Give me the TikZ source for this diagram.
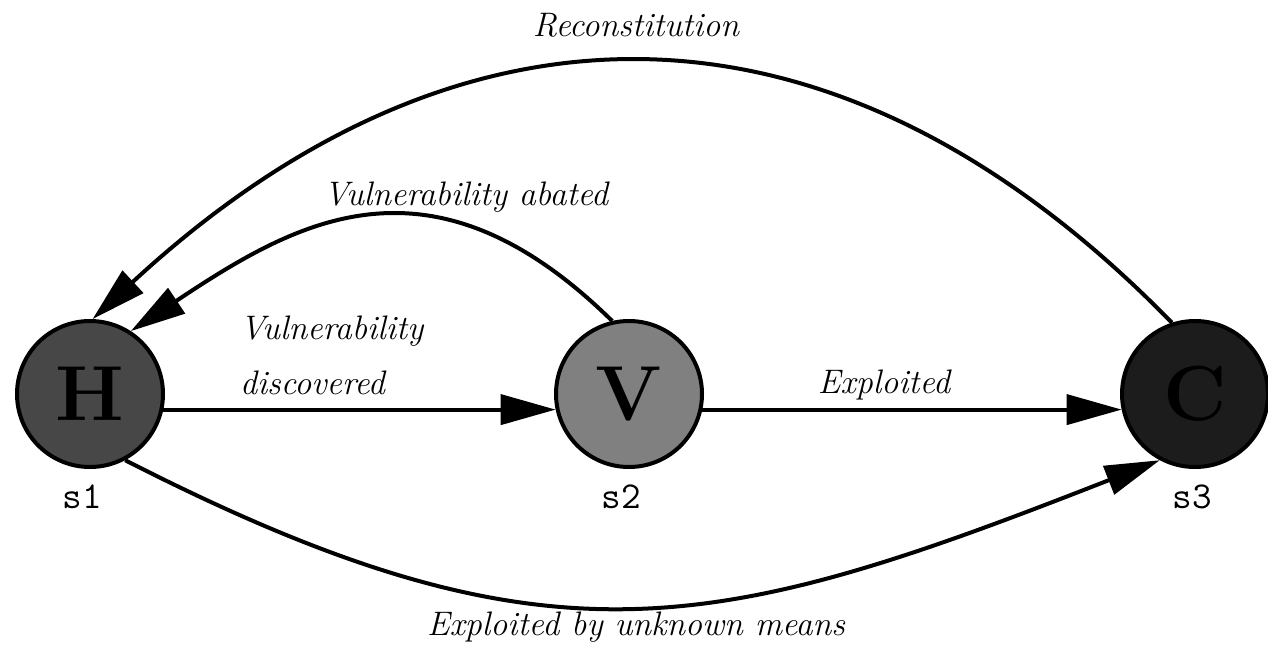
\documentclass[tikz,border=0pt]{standalone}
\usepackage{tikz}
\usetikzlibrary{arrows.meta,positioning}

\definecolor{hcol}{gray}{0.28}
\definecolor{vcol}{gray}{0.50}
\definecolor{ccol}{gray}{0.11}

\begin{document}
\begin{tikzpicture}[x=1pt,y=-1pt,line width=4pt,>={Triangle[length=55pt,width=30pt]},
state/.style={circle,draw,minimum size=146pt,inner sep=0pt,font=\bfseries\fontsize{78}{80}\selectfont},
lbl/.style={inner sep=0pt,anchor=base,font=\itshape\fontsize{34}{55}\selectfont},
tag/.style={inner sep=0pt,anchor=base,font=\ttfamily\fontsize{38}{42}\selectfont}]
\useasboundingbox (0,0) rectangle (1268,653);
\node[state,fill=hcol] (H) at (90,394) {H};
\node[state,fill=vcol,right=389pt of H] (V) {V};
\node[state,fill=ccol,right=416pt of V] (C) {C};
\node[tag] (s1) at (82,508) {s1};
\node[tag] (s2) at (621,508) {s2};
\node[tag] (s3) at (1192,508) {s3};
\node[lbl] (recon) at (636,36) {Reconstitution};
\node[lbl] (abated) at (466,205) {Vulnerability abated};
\node[lbl,anchor=north west,align=left] (disc) at (238,314) {Vulnerability\\discovered};
\node[lbl] (expl) at (884,393) {Exploited};
\node[lbl] (unknown) at (636,635) {Exploited by unknown means};
\draw[->] (H.-12)--(V.192);\draw[->] (V.-12)--(C.192);
\draw[->] (V.103) .. controls (430,142) and (295,222) .. (H.57);
\draw[->] (C.108) .. controls (830,-28) and (455,-16) .. (H.88);
\draw[->] (H.-62) .. controls (550,677) and (716,634) .. (C.-118);
\end{tikzpicture}
\end{document}
